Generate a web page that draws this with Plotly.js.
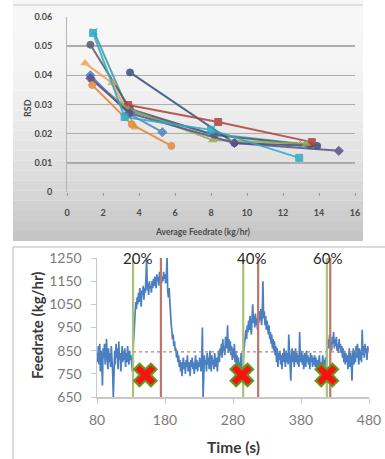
<!DOCTYPE html>
<html>
<head>
<meta charset="utf-8">
<script src="https://cdn.plot.ly/plotly-3.0.1.min.js"></script>
<style>html,body{margin:0;padding:0;background:#fff;}#chart{width:385px;height:459px;}</style>
</head>
<body>
<div id="chart"></div>
<script>
// ---------- Top chart: RSD vs average feedrate ----------
const rsdTicks = [0, 0.01, 0.02, 0.03, 0.04, 0.05, 0.06];
const rsdTickText = ["0", "0.01", "0.02", "0.03", "0.04", "0.05", "0.06"];
const feedTicks = [0, 2, 4, 6, 8, 10, 12, 14, 16];

const blueX = [1.3, 3.4, 5.3];          const blueY = [0.0400, 0.0270, 0.0205];
const redX = [3.4, 8.4, 13.6];          const redY = [0.0298, 0.0240, 0.0171];
const greenX = [1.4, 3.4, 8.1, 13.3];   const greenY = [0.0385, 0.0285, 0.0178, 0.0165];
const purpleX = [1.3, 3.5, 9.3, 15.1];  const purpleY = [0.0390, 0.0270, 0.0168, 0.0141];
const aquaX = [1.45, 3.2, 8.0, 12.9];   const aquaY = [0.0545, 0.0257, 0.0213, 0.0117];
const orangeCX = [1.4, 3.6, 5.8];       const orangeCY = [0.0367, 0.0232, 0.0158];
const orangeTX = [1.0, 2.5, 3.8];       const orangeTY = [0.0442, 0.0374, 0.0222];
const grayX = [1.3, 3.5, 8.2, 13.5];    const grayY = [0.0505, 0.0285, 0.0195, 0.0160];
const navyX = [3.5, 9.3, 13.9];         const navyY = [0.0410, 0.0168, 0.0158];
const tealX = [1.5, 3.4, 8.0, 13.1];    const tealY = [0.0550, 0.0280, 0.0200, 0.0165];

// ---------- Bottom chart: feedrate vs time (one reading per second from 80 s) ----------
const timeStart = 80;   // s
const timeStep = 1;     // s between readings
const feedrate = [
  840,800,870,790,880,760,850,810,700,860,820,880,790,850,900,810,770,860,800,840,
  780,870,820,760,650,800,850,790,880,820,860,770,890,810,840,760,830,870,800,850,
  810,860,780,840,800,870,820,790,850,810,830,780,760,850,920,980,1020,1060,1030,1080,
  1050,1100,1060,1120,1080,1040,1110,1090,1130,1070,1120,1100,1160,1250,1110,1140,1090,1150,1120,1130,
  1100,1150,1120,1160,1130,1170,1140,1120,1180,1150,1170,1130,1190,1160,1180,1140,1170,1150,1190,1160,
  1180,1140,1170,1250,1110,1080,1120,1050,1010,970,940,900,920,870,890,850,860,820,850,800,
  830,780,810,760,800,740,790,820,770,800,750,810,780,830,760,800,790,740,810,780,
  820,770,800,750,790,830,770,810,760,800,780,820,790,760,820,950,650,780,830,790,
  810,760,840,790,820,770,850,800,760,830,790,810,770,840,800,780,820,760,810,850,
  800,860,830,880,820,900,850,870,830,910,860,880,960,840,900,850,890,830,870,810,
  860,820,880,800,850,790,830,770,820,760,800,780,840,760,800,780,850,880,910,940,
  900,960,930,980,940,1000,960,920,990,1050,970,1000,950,1010,960,990,940,1000,970,1020,
  980,1030,960,1000,1150,990,1020,960,1000,940,980,950,920,960,900,930,880,920,860,900,
  850,890,830,870,800,860,780,840,810,850,790,830,770,840,800,860,810,780,850,800,
  840,790,920,820,780,720,830,860,800,850,780,820,860,800,840,790,830,780,930,820,
  800,850,790,830,770,840,810,780,850,800,830,790,820,770,840,800,830,780,820,790,
  830,780,820,770,810,760,800,830,780,760,800,790,830,770,810,790,820,780,850,870,
  900,860,920,870,890,850,910,880,930,860,900,870,910,850,880,840,900,860,880,840,
  870,820,860,800,850,790,840,800,830,770,810,860,780,840,800,720,830,860,790,850,
  800,870,820,880,830,790,860,810,850,800,940,830,870,820,880,840,860,810,870,850
];
const stepLabels = ["20%", "40%", "60%"];
const stepStart = [133, 295, 418];   // green lines (s)
const stepEnd = [174, 317, 423];     // red lines (s)
const failX = [151, 293, 418];       // red crosses (s)
const failY = [745, 745, 745];
const meanLevel = 845;
const meanSpan = [133, 480];
const timeTicks = [80, 180, 280, 380, 480];
const feedTicksB = [650, 750, 850, 950, 1050, 1150, 1250];

// ---------- build ----------
const W = 385, H = 459;
const px = v => v / W, py = v => (H - v) / H;

function rsdTrace(x, y, color, symbol) {
  return {x: x, y: y, xaxis: 'x', yaxis: 'y', type: 'scatter', mode: 'lines+markers',
    line: {color: color, width: 2}, marker: {color: color, symbol: symbol, size: 7,
    line: {color: color, width: 1}}, opacity: 0.85, hoverinfo: 'skip'};
}
const traces = [
  rsdTrace(tealX, tealY, '#3a9aa8', 'x-thin-open'),
  rsdTrace(grayX, grayY, '#555a66', 'circle'),
  rsdTrace(orangeTX, orangeTY, '#f0a050', 'triangle-up'),
  rsdTrace(navyX, navyY, '#35507a', 'circle'),
  rsdTrace(redX, redY, '#b0403c', 'square'),
  rsdTrace(greenX, greenY, '#8faa50', 'triangle-up'),
  rsdTrace(blueX, blueY, '#4f81bd', 'diamond'),
  rsdTrace(purpleX, purpleY, '#5a4f8c', 'diamond'),
  rsdTrace(orangeCX, orangeCY, '#e08a3a', 'circle'),
  rsdTrace(aquaX, aquaY, '#2fa9c6', 'square'),
];

traces.push({y: feedrate, x0: timeStart, dx: timeStep, xaxis: 'x2', yaxis: 'y2', type: 'scatter',
  mode: 'lines', line: {color: '#4a7fc2', width: 1.7}, hoverinfo: 'skip'});
traces.push({x: meanSpan, y: [meanLevel, meanLevel], xaxis: 'x2', yaxis: 'y2', type: 'scatter',
  mode: 'lines', line: {color: '#a08878', width: 1.2, dash: 'dot'}, hoverinfo: 'skip'});
const gx = [], gy = [], rx = [], ry = [];
stepStart.forEach(v => { gx.push(v, v, null); gy.push(650, 1265, null); });
stepEnd.forEach(v => { rx.push(v, v, null); ry.push(650, 1265, null); });
traces.push({x: gx, y: gy, xaxis: 'x2', yaxis: 'y2', type: 'scatter', mode: 'lines',
  line: {color: '#a9c27a', width: 2.2}, cliponaxis: false, hoverinfo: 'skip'});
traces.push({x: rx, y: ry, xaxis: 'x2', yaxis: 'y2', type: 'scatter', mode: 'lines',
  line: {color: '#c27468', width: 2.2}, cliponaxis: false, hoverinfo: 'skip'});
traces.push({x: failX, y: failY, xaxis: 'x2', yaxis: 'y2', type: 'scatter', mode: 'markers',
  marker: {symbol: 'x', size: 20, color: '#ff1010', line: {color: '#5e9a1e', width: 2}}, hoverinfo: 'skip'});

// gradient background bands for the top panel
const shapes = [];
const bands = 24, bandTop = 0, bandBottom = 241;
for (let i = 0; i < bands; i++) {
  const f = i / (bands - 1);
  const c = Math.round(247 - f * f * 50);
  shapes.push({type: 'rect', xref: 'paper', yref: 'paper', layer: 'below', line: {width: 0},
    x0: px(13), x1: px(363),
    y0: py(bandTop + (bandBottom - bandTop) * (i + 1) / bands),
    y1: py(bandTop + (bandBottom - bandTop) * i / bands),
    fillcolor: `rgb(${c},${c},${c})`});
}
shapes.push({type: 'line', xref: 'paper', yref: 'paper', x0: px(13), x1: px(363), y0: py(5), y1: py(5),
  line: {color: '#d8d8d8', width: 1.5}, layer: 'below'});
// bottom panel border
shapes.push({type: 'line', xref: 'paper', yref: 'paper', x0: px(13), x1: px(13), y0: py(247), y1: 0,
  line: {color: '#cfcfcf', width: 1.5}});
shapes.push({type: 'line', xref: 'paper', yref: 'paper', x0: px(13), x1: 1, y0: py(247), y1: py(247),
  line: {color: '#cfcfcf', width: 1.5}});

const labelShift = [7, 12, 1];
const annotations = stepLabels.map((t, i) => ({
  text: t, x: stepStart[i] + labelShift[i], y: 1.0, xref: 'x2', yref: 'y2 domain',
  xanchor: 'center', yanchor: 'middle', showarrow: false,
  font: {family: 'Lato, sans-serif', size: 15, color: '#2a2a2a'}
}));
// axis titles placed as in the reference
const titleAnn = (text, x, y, angle, size, color) => ({text: text, xref: 'paper', yref: 'paper',
  x: px(x), y: py(y), xanchor: 'center', yanchor: 'middle', textangle: angle, showarrow: false,
  font: {size: size, color: color, weight: 'bold'}});
annotations.push(titleAnn('RSD', 27, 108, -90, 9, '#4a4a4a'));
annotations.push(titleAnn('Average Feedrate (kg/hr)', 203, 232, 0, 8.5, '#4a4a4a'));
annotations.push(titleAnn('Feedrate (kg/hr)', 37, 326, -90, 15, '#3a3a3a'));
annotations.push(titleAnn('Time (s)', 233, 447, 0, 15.5, '#3a3a3a'));

const layout = {
  width: W, height: H, margin: {l: 0, r: 0, t: 0, b: 0}, showlegend: false,
  paper_bgcolor: '#ffffff', plot_bgcolor: 'rgba(0,0,0,0)',
  font: {family: 'Lato, sans-serif'},
  xaxis: {domain: [px(67), px(355)], range: [0, 16], tickvals: feedTicks, showgrid: false, zeroline: false,
    ticks: 'outside', ticklen: 3, tickcolor: '#9a9a9a', showline: false, ticklabelstandoff: 9,
    tickfont: {size: 9, color: '#4a4a4a', weight: 'bold'},
    anchor: 'y', fixedrange: true},
  yaxis: {domain: [py(192), py(17)], range: [0, 0.06], tickvals: rsdTicks, ticktext: rsdTickText,
    showgrid: true, gridcolor: '#adadad', gridwidth: 1.5, zeroline: false, showline: true, linecolor: '#b5b5b5',
    linewidth: 1, ticks: '', ticklabelstandoff: 12, tickfont: {size: 9, color: '#4a4a4a', weight: 'bold'},
    anchor: 'x', fixedrange: true},
  xaxis2: {domain: [px(97), px(369)], range: [80, 480], tickvals: timeTicks, showgrid: false, zeroline: false,
    showline: true, linecolor: '#c8c8c8', linewidth: 1.5, ticks: 'outside', ticklen: 5, tickcolor: '#c8c8c8',
    ticklabelstandoff: 5, tickfont: {size: 14, color: '#7a7a7a'},
    anchor: 'y2', fixedrange: true},
  yaxis2: {domain: [py(397), py(258)], range: [650, 1250], tickvals: feedTicksB, showgrid: false, zeroline: false,
    showline: true, linecolor: '#c8c8c8', linewidth: 1.5, ticks: 'outside', ticklen: 5, tickcolor: '#c8c8c8',
    ticklabelstandoff: 6, tickfont: {size: 14, color: '#7a7a7a'},
    anchor: 'x2', fixedrange: true},
  shapes: shapes,
  annotations: annotations
};

Plotly.newPlot('chart', traces, layout, {displayModeBar: false, staticPlot: true});
</script>
</body>
</html>
